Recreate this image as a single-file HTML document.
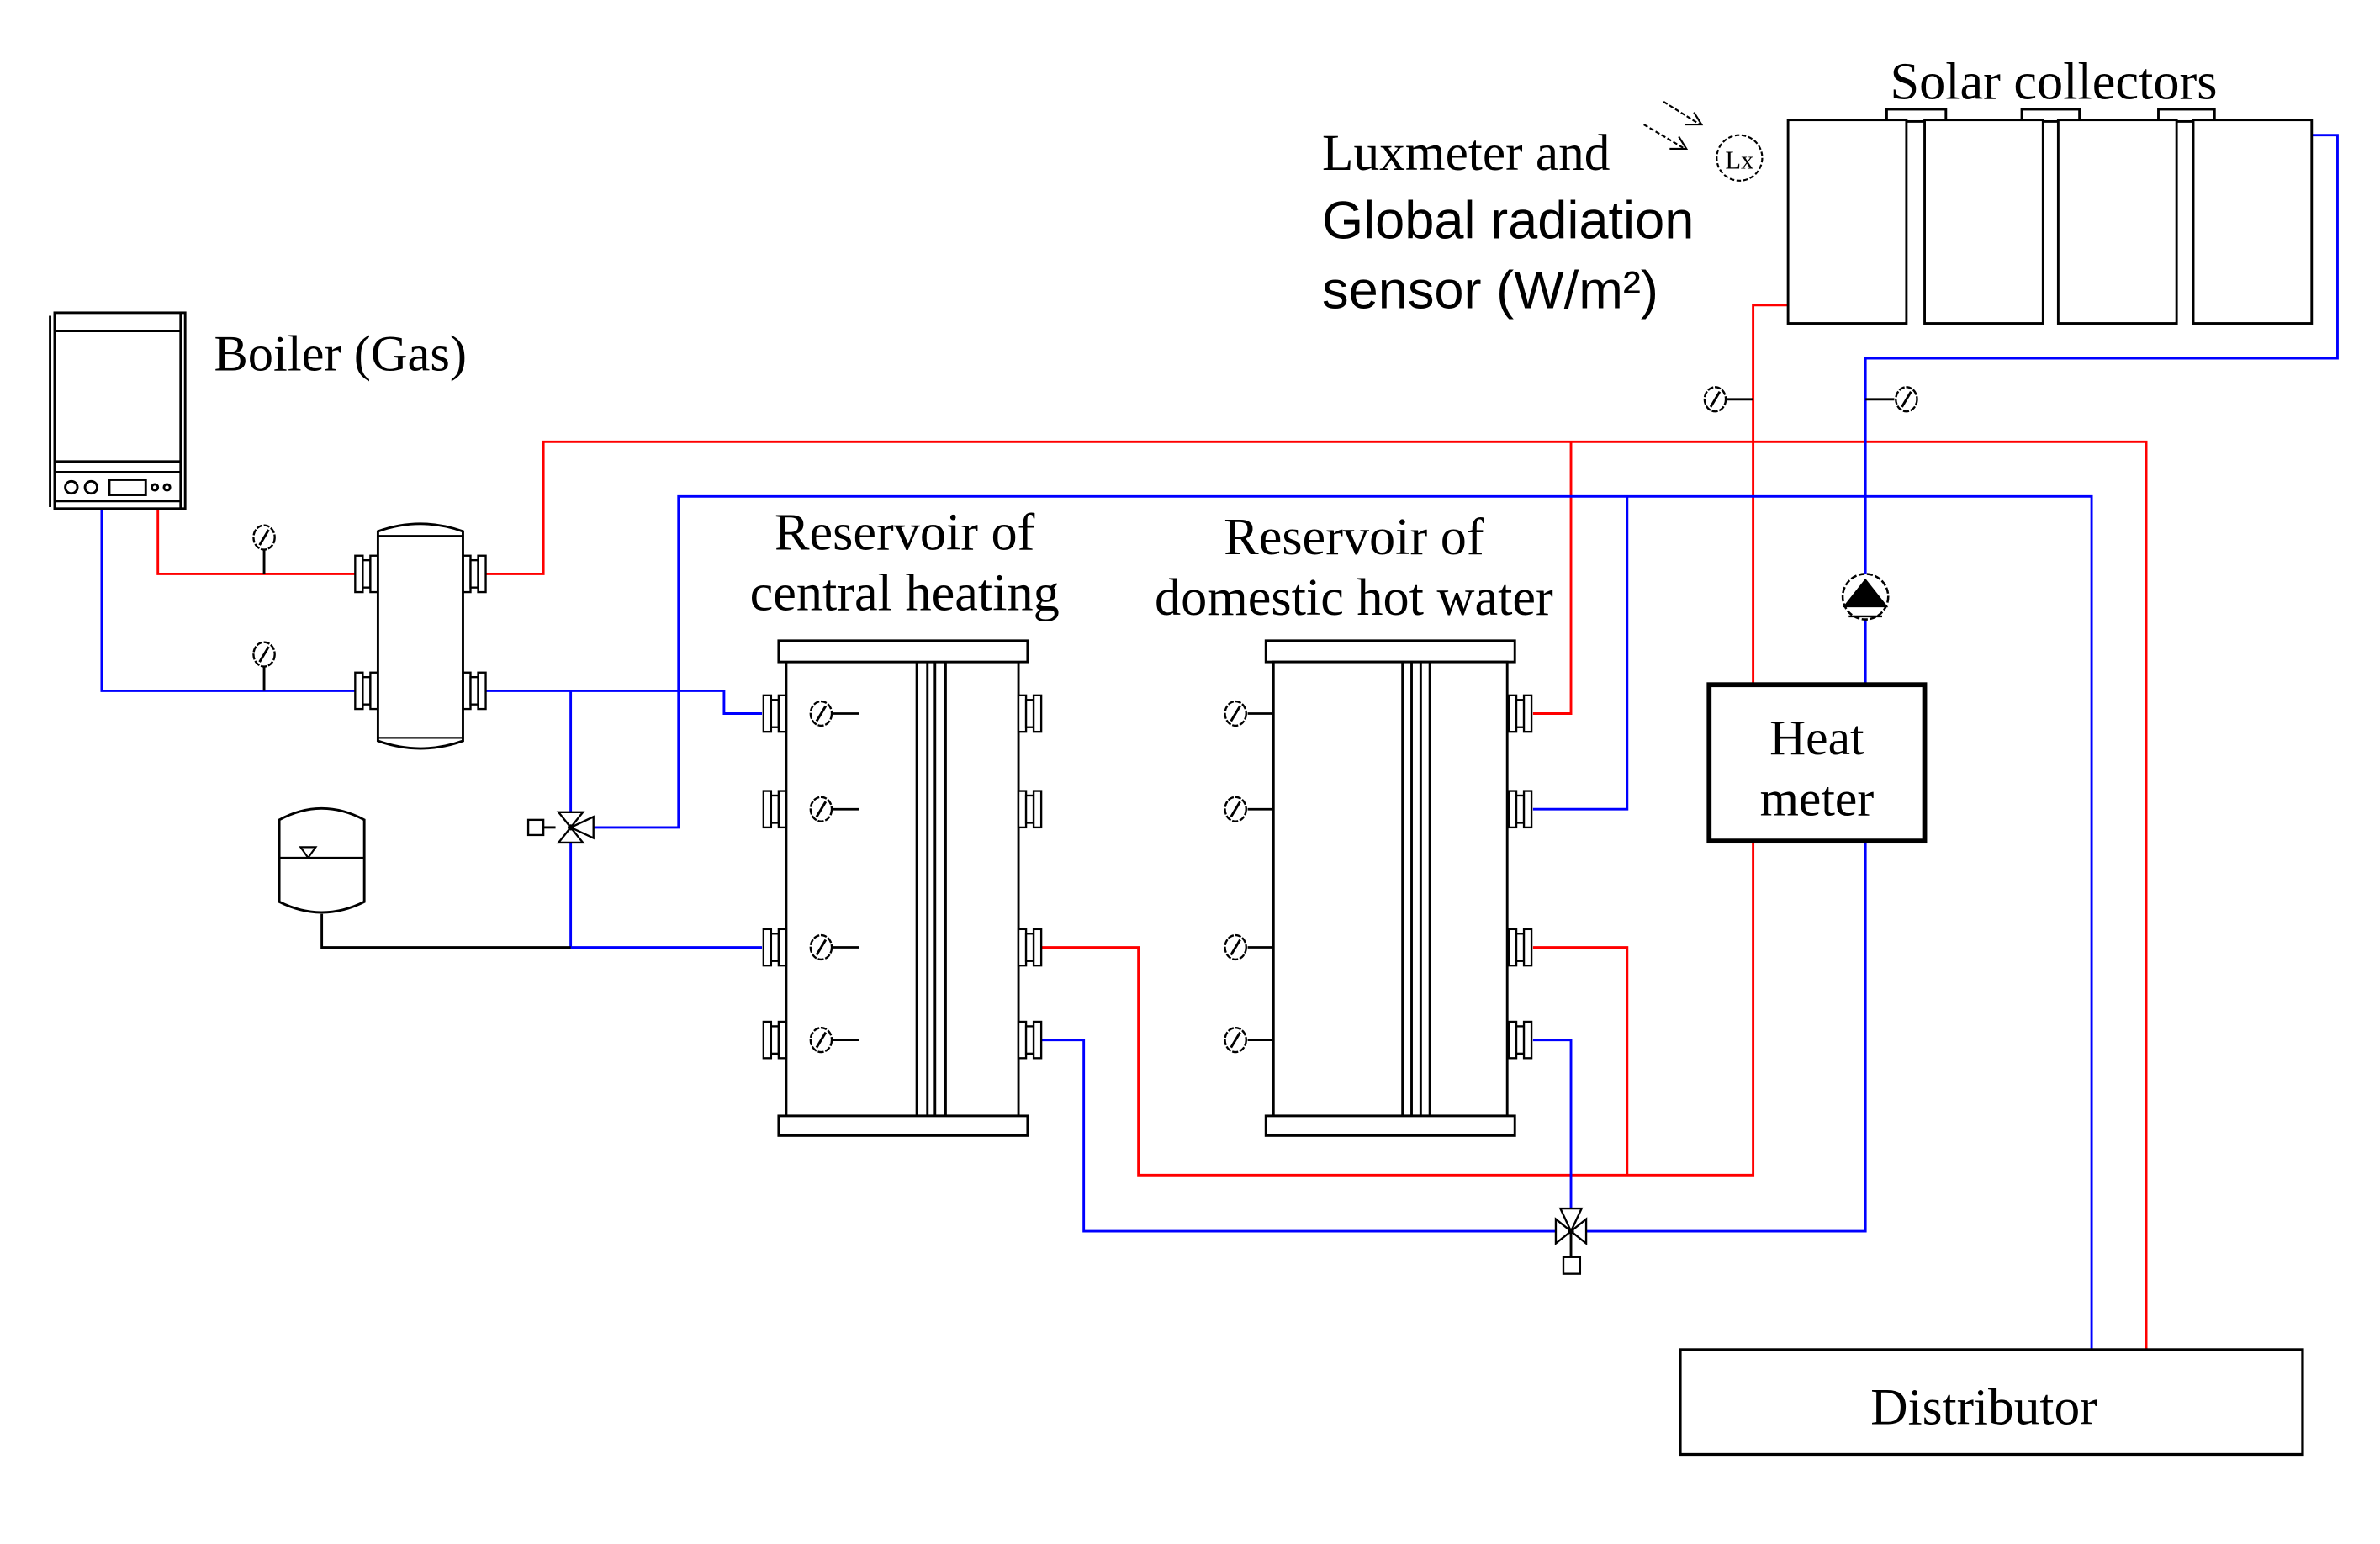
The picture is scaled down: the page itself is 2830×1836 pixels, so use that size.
<!DOCTYPE html>
<html><head><meta charset="utf-8"><style>
html,body{margin:0;padding:0;background:#fff;}
svg{display:block;}
text{font-family:"Liberation Serif",serif;fill:#000;}
.s{font-family:"Liberation Sans","DejaVu Sans",sans-serif;}
</style></head><body>
<svg width="2830" height="1836" viewBox="0 0 1568 1017" preserveAspectRatio="none" xmlns="http://www.w3.org/2000/svg">
<defs>
<g id="fl"><rect x="0" y="-12" width="5" height="24" fill="#fff" stroke="#000" stroke-width="1.3"/><rect x="5" y="-9" width="5" height="18" fill="#fff" stroke="#000" stroke-width="1.3"/><rect x="10" y="-12" width="5" height="24" fill="#fff" stroke="#000" stroke-width="1.3"/></g>
<g id="gg"><ellipse cx="0" cy="0" rx="7" ry="8" fill="#fff" stroke="#000" stroke-width="1.3" stroke-dasharray="4 1"/><line x1="-3" y1="5" x2="3" y2="-5" stroke="#000" stroke-width="1.6"/></g>
<g id="vv"><path d="M-10,-8 L10,8 L10,-8 L-10,8 Z" fill="#fff" stroke="#000" stroke-width="1.3"/><path d="M-7,-15 L7,-15 L0,0 Z" fill="#fff" stroke="#000" stroke-width="1.3"/><circle r="2"/></g>
</defs>
<g fill="none" stroke-width="1.6">
<polyline stroke="#f00" points="104,335 104,378 234,378"/>
<polyline stroke="#f00" points="320,378 358,378 358,291 1414,291 1414,889"/>
<polyline stroke="#f00" points="1035,291 1035,470 1010,470"/>
<polyline stroke="#f00" points="686,624 750,624 750,774 1155,774 1155,555"/>
<polyline stroke="#f00" points="1010,624 1072,624 1072,774"/>
<polyline stroke="#f00" points="1155,451 1155,201 1178,201"/>
<polyline stroke="#00f" points="67,335 67,455 234,455"/>
<polyline stroke="#00f" points="320,455 477,455 477,470 502,470"/>
<polyline stroke="#00f" points="376,455 376,624 502,624"/>
<polyline stroke="#00f" points="386,545 447,545 447,327 1378,327 1378,889"/>
<polyline stroke="#00f" points="1072,327 1072,533 1010,533"/>
<polyline stroke="#00f" points="686,685 714,685 714,811 1229,811 1229,555"/>
<polyline stroke="#00f" points="1010,685 1035,685 1035,811"/>
<polyline stroke="#00f" points="1229,451 1229,236 1540,236 1540,89 1523,89"/>
<polyline stroke="#000" points="212,602 212,624 376,624"/>
<line stroke="#000" x1="174" y1="362" x2="174" y2="378"/>
<line stroke="#000" x1="174" y1="439" x2="174" y2="455"/>
<line stroke="#000" x1="1138" y1="263" x2="1155" y2="263"/>
<line stroke="#000" x1="1229" y1="263" x2="1248" y2="263"/>
<line stroke="#000" x1="358" y1="545" x2="366" y2="545"/>
<line stroke="#000" x1="1035" y1="811" x2="1035" y2="828"/>
</g>
<g fill="none" stroke="#000" stroke-width="1.6">
<rect x="36" y="206" width="86" height="129" fill="#fff"/>
<line x1="33" y1="208" x2="33" y2="334"/>
<line x1="119" y1="206" x2="119" y2="335"/>
<line x1="36" y1="218" x2="119" y2="218"/>
<line x1="36" y1="304" x2="119" y2="304"/>
<line x1="36" y1="311" x2="119" y2="311"/>
<line x1="36" y1="330" x2="119" y2="330"/>
<circle cx="47" cy="321" r="4"/><circle cx="60" cy="321" r="4"/>
<rect x="72" y="316" width="24" height="10"/>
<circle cx="102" cy="321" r="2"/><circle cx="110" cy="321" r="2"/>
</g>
<use href="#fl" x="234" y="378"/><use href="#fl" x="234" y="455"/>
<use href="#fl" x="305" y="378"/><use href="#fl" x="305" y="455"/>
<path d="M249,350 Q277,340 305,350 L305,488 Q277,498 249,488 Z" fill="#fff" stroke="#000" stroke-width="1.6"/>
<line x1="249" y1="353" x2="305" y2="353" stroke="#000" stroke-width="1.3"/>
<line x1="249" y1="486" x2="305" y2="486" stroke="#000" stroke-width="1.3"/>
<use href="#gg" x="174" y="354"/><use href="#gg" x="174" y="431"/>
<path d="M184,540 Q212,525 240,540 L240,594 Q212,608 184,594 Z" fill="#fff" stroke="#000" stroke-width="1.6"/>
<line x1="184" y1="565" x2="240" y2="565" stroke="#000" stroke-width="1.3"/>
<path d="M198,558 L208,558 L203,565 Z" fill="none" stroke="#000" stroke-width="1.2"/>
<g transform="translate(376,545) rotate(90)"><use href="#vv"/></g>
<rect x="348" y="540" width="10" height="10" fill="#fff" stroke="#000" stroke-width="1.3"/>
<use href="#vv" x="1035" y="811"/>
<rect x="1030" y="828" width="11" height="11" fill="#fff" stroke="#000" stroke-width="1.3"/>
<g stroke="#000" stroke-width="1.6" fill="#fff">
<rect x="518" y="436" width="153" height="299"/>
<rect x="513" y="422" width="164" height="14"/>
<rect x="513" y="735" width="164" height="13"/>
<line x1="604" y1="436" x2="604" y2="735"/><line x1="611" y1="436" x2="611" y2="735"/>
<line x1="616" y1="436" x2="616" y2="735"/><line x1="623" y1="436" x2="623" y2="735"/>
<rect x="834" y="422" width="164" height="14"/>
<rect x="839" y="436" width="154" height="299"/>
<rect x="834" y="735" width="164" height="13"/>
<line x1="924" y1="436" x2="924" y2="735"/><line x1="930" y1="436" x2="930" y2="735"/>
<line x1="936" y1="436" x2="936" y2="735"/><line x1="942" y1="436" x2="942" y2="735"/>
</g>
<g stroke="#000" stroke-width="1.5">
<line x1="549" y1="470" x2="566" y2="470"/><line x1="549" y1="533" x2="566" y2="533"/>
<line x1="549" y1="624" x2="566" y2="624"/><line x1="549" y1="685" x2="566" y2="685"/>
<line x1="822" y1="470" x2="839" y2="470"/><line x1="822" y1="533" x2="839" y2="533"/>
<line x1="822" y1="624" x2="839" y2="624"/><line x1="822" y1="685" x2="839" y2="685"/>
</g>
<use href="#fl" x="503" y="470"/><use href="#fl" x="503" y="533"/><use href="#fl" x="503" y="624"/><use href="#fl" x="503" y="685"/>
<use href="#fl" x="671" y="470"/><use href="#fl" x="671" y="533"/><use href="#fl" x="671" y="624"/><use href="#fl" x="671" y="685"/>
<use href="#fl" x="994" y="470"/><use href="#fl" x="994" y="533"/><use href="#fl" x="994" y="624"/><use href="#fl" x="994" y="685"/>
<use href="#gg" x="541" y="470"/><use href="#gg" x="541" y="533"/><use href="#gg" x="541" y="624"/><use href="#gg" x="541" y="685"/>
<use href="#gg" x="814" y="470"/><use href="#gg" x="814" y="533"/><use href="#gg" x="814" y="624"/><use href="#gg" x="814" y="685"/>
<use href="#gg" x="1130" y="263"/><use href="#gg" x="1256" y="263"/>
<circle cx="1229" cy="393" r="15" fill="#fff" stroke="#000" stroke-width="1.4" stroke-dasharray="4 1.5"/>
<path d="M1229,381 L1244,400 L1214,400 Z" fill="#000"/>
<line x1="1218" y1="406" x2="1240" y2="406" stroke="#000" stroke-width="1.3"/>
<rect x="1126" y="451" width="142" height="103" fill="#fff" stroke="#000" stroke-width="3.2"/>
<text x="1197" y="497" font-size="33" text-anchor="middle">Heat</text>
<text x="1197" y="537" font-size="33" text-anchor="middle">meter</text>
<g stroke="#000" stroke-width="1.6" fill="#fff">
<rect x="1243" y="72" width="39" height="8"/><rect x="1332" y="72" width="38" height="8"/><rect x="1422" y="72" width="37" height="8"/>
<rect x="1178" y="79" width="78" height="134"/><rect x="1268" y="79" width="78" height="134"/>
<rect x="1356" y="79" width="78" height="134"/><rect x="1445" y="79" width="78" height="134"/>
</g>
<circle cx="1146" cy="104" r="15" fill="#fff" stroke="#000" stroke-width="1.2" stroke-dasharray="3 1.5"/>
<text x="1146" y="111" font-size="17" text-anchor="middle">Lx</text>
<g stroke="#000" stroke-width="1.2" fill="none" stroke-dasharray="3 1.5">
<line x1="1096" y1="67" x2="1120" y2="82"/><line x1="1083" y1="82" x2="1110" y2="98"/>
</g>
<g stroke="#000" stroke-width="1.2" fill="none">
<polyline points="1110,82 1121,82 1116,74"/><polyline points="1100,98 1111,98 1106,90"/>
</g>
<rect x="1107" y="889" width="410" height="69" fill="#fff" stroke="#000" stroke-width="1.8"/>
<text x="1307" y="938" font-size="34" text-anchor="middle">Distributor</text>
<text x="141" y="244" font-size="33.5">Boiler (Gas)</text>
<text x="596" y="362" font-size="34.5" text-anchor="middle">Reservoir of</text>
<text x="596" y="402" font-size="34.5" text-anchor="middle">central heating</text>
<text x="892" y="365" font-size="34.5" text-anchor="middle">Reservoir of</text>
<text x="892" y="405" font-size="34.5" text-anchor="middle">domestic hot water</text>
<text x="1353" y="65" font-size="34.5" text-anchor="middle">Solar collectors</text>
<text x="871" y="112" font-size="34">Luxmeter and</text>
<text x="871" y="157" font-size="35" class="s">Global radiation</text>
<text x="871" y="203" font-size="35" class="s">sensor (W/m²)</text>
</svg>
</body></html>
